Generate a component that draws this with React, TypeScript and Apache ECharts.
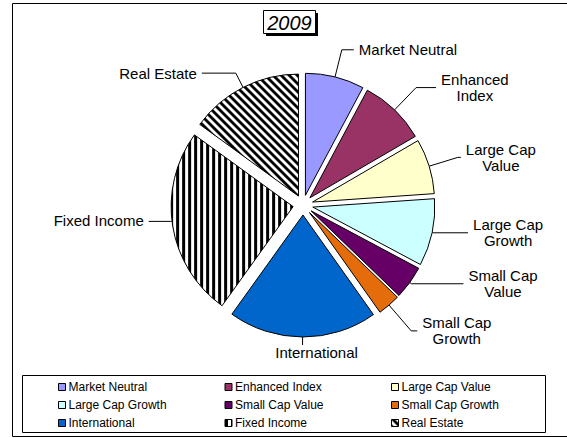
import React, { useEffect, useRef } from "react";
import * as echarts from "echarts";

const categories = [
  "Market Neutral",
  "Enhanced Index",
  "Large Cap Value",
  "Large Cap Growth",
  "Small Cap Value",
  "Small Cap Growth",
  "International",
  "Fixed Income",
  "Real Estate",
];
const labelTexts = [
  "Market Neutral",
  "Enhanced\nIndex",
  "Large Cap\nValue",
  "Large Cap\nGrowth",
  "Small Cap\nValue",
  "Small Cap\nGrowth",
  "International",
  "Fixed Income",
  "Real Estate",
];
const values = [7.8, 8.8, 7.3, 8.9, 4.4, 3.0, 19.7, 25.1, 15.0];
const fills = ["#9999FF", "#993366", "#FFFFCC", "#CCFFFF", "#660066", "#E46C0A", "#0066CC", "vstripe", "dstripe"];
const title = "2009";

// leader-line styling (first radial segment, then horizontal segment)
const leaderLen1 = [28, 31, 30, 1, 2, 34, 8, 2, 16];
const leaderLen2 = [12, 20, 3, 35, 52, 6, 1, 22, 34];

const FONT = "'Liberation Sans', Arial, sans-serif";

function makePattern(kind: string): any {
  const s = kind === "vstripe" ? 6 : 8;
  const c = document.createElement("canvas");
  c.width = s;
  c.height = s;
  const ctx = c.getContext("2d")!;
  ctx.fillStyle = "#ffffff";
  ctx.fillRect(0, 0, s, s);
  ctx.fillStyle = "#000000";
  for (let y = 0; y < s; y++) {
    for (let x = 0; x < s; x++) {
      const black = kind === "vstripe" ? x < 3 : ((x - y + s) % s) < 4;
      if (black) ctx.fillRect(x, y, 1, 1);
    }
  }
  return { image: c, repeat: "repeat" };
}

export default function App() {
  const ref = useRef<HTMLDivElement>(null);
  useEffect(() => {
    if (!ref.current) return;
    const chart = echarts.init(ref.current, undefined, { renderer: "svg" });
    const colorOf = (i: number) => {
      const f = fills[i];
      return f === "vstripe" || f === "dstripe" ? makePattern(f) : f;
    };
    const data = categories.map((name, i) => ({
      name,
      value: values[i],
      selected: true,
      itemStyle: { color: colorOf(i), borderColor: "#000", borderWidth: 1 },
      labelLine: { length: leaderLen1[i], length2: leaderLen2[i] },
    }));
    const legendCols = [0, 1, 2].map((col) => ({
      orient: "vertical",
      left: 58 + col * 166.5,
      top: 380,
      padding: 0,
      itemGap: 4,
      itemWidth: 7,
      itemHeight: 7,
      icon: "rect",
      selectedMode: false,
      itemStyle: { borderColor: "#000", borderWidth: 1 },
      textStyle: { fontFamily: FONT, fontSize: 12, color: "#000", lineHeight: 14, padding: [0, 0, 0, -2] },
      data: categories.filter((_, i) => i % 3 === col),
    }));
    chart.setOption({
      animation: false,
      backgroundColor: "#ffffff",
      graphic: [
        {
          type: "rect",
          shape: { x: 12.5, y: 3.5, width: 600, height: 433 },
          style: { fill: "none", stroke: "#000", lineWidth: 1 },
          z: 0,
        },
        {
          type: "rect",
          shape: { x: 22.5, y: 375.5, width: 523, height: 57 },
          style: { fill: "none", stroke: "#000", lineWidth: 1 },
          z: 0,
        },
        {
          type: "rect",
          shape: { x: 266, y: 13, width: 52, height: 23 },
          style: { fill: "#000" },
          z: 10,
        },
        {
          type: "rect",
          shape: { x: 263.5, y: 10.5, width: 52, height: 23 },
          style: { fill: "#fff", stroke: "#000", lineWidth: 1 },
          z: 11,
        },
        {
          type: "text",
          x: 289.5,
          y: 22.5,
          style: {
            text: title,
            font: `italic 20px ${FONT}`,
            fill: "#000",
            align: "center",
            verticalAlign: "middle",
          },
          z: 12,
        },
      ],
      legend: legendCols,
      series: [
        {
          type: "pie",
          center: [303, 205],
          radius: 122,
          startAngle: 90,
          clockwise: true,
          selectedMode: "multiple",
          selectedOffset: 10,
          emphasis: { disabled: true },
          select: { itemStyle: { borderColor: "#000", borderWidth: 1 } },
          avoidLabelOverlap: false,
          labelLayout: (params: any) => {
            const pts = params.labelLinePoints;
            if (!pts || pts.length < 3) return { hideOverlap: false };
            const a = pts[0];
            const b = pts[1];
            const c = pts[2];
            const dy = b[1] - a[1];
            const dx = b[0] - a[0];
            if (dy > 4 && Math.abs(dx) < 0.2 * dy) {
              // label right below a bottom slice: put the text under its leader
              return {
                hideOverlap: false,
                dx: 20,
                align: "center",
                verticalAlign: "top",
                labelLinePoints: [a, b, b],
              };
            }
            if (dx < 0 && Math.abs(dy) < 4) {
              // left-pointing flat leader: lift it slightly, like the original
              return {
                hideOverlap: false,
                dy: -6,
                labelLinePoints: [
                  [a[0], a[1] - 5],
                  [b[0], b[1] - 5],
                  [c[0], c[1] - 5],
                ],
              };
            }
            return { hideOverlap: false };
          },
          label: {
            show: true,
            position: "outside",
            formatter: (p: any) =>
              labelTexts[p.dataIndex]
                .split("\n")
                .map((s) => `{c|${s}}`)
                .join("\n"),
            fontFamily: FONT,
            fontSize: 15,
            lineHeight: 16,
            color: "#000",
            rich: {
              c: { align: "center", fontFamily: FONT, fontSize: 15, lineHeight: 16, color: "#000" },
            },
          },
          labelLine: {
            show: true,
            lineStyle: { color: "#000", width: 1 },
          },
          data,
        },
      ],
    });
    return () => chart.dispose();
  }, []);
  return <div ref={ref} style={{ position: "absolute", left: 0, top: 0, width: 567, height: 438 }} />;
}
